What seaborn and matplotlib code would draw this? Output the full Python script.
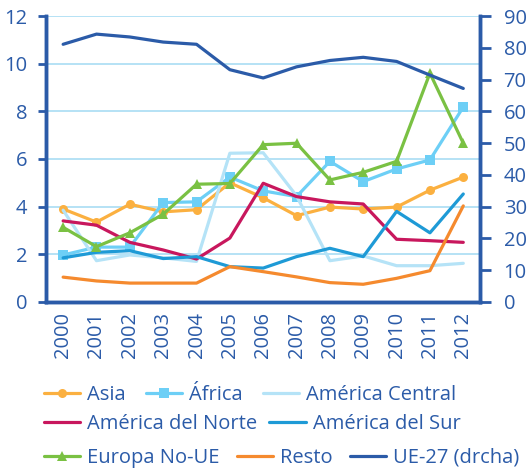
import matplotlib
matplotlib.use("Agg")
import matplotlib.pyplot as plt
import seaborn as sns
import pandas as pd
import numpy as np
from matplotlib.ticker import MultipleLocator, FixedLocator

years = [str(y) for y in range(2000, 2013)]
asia = [3.9, 3.35, 4.1, 3.78, 3.87, 5.0, 4.37, 3.62, 3.98, 3.9, 3.98, 4.69, 5.24]
africa = [1.97, 2.3, 2.3, 4.17, 4.2, 5.24, 4.66, 4.42, 5.9, 5.05, 5.58, 5.96, 8.18]
am_central = [3.85, 1.73, 1.97, 1.85, 1.7, 6.24, 6.26, 4.45, 1.73, 1.93, 1.52, 1.52, 1.62]
am_norte = [3.4, 3.22, 2.5, 2.18, 1.8, 2.68, 4.98, 4.42, 4.2, 4.11, 2.63, 2.57, 2.5]
am_sur = [1.85, 2.08, 2.15, 1.82, 1.9, 1.48, 1.42, 1.9, 2.25, 1.9, 3.8, 2.9, 4.53]
europa = [3.13, 2.32, 2.9, 3.68, 4.94, 4.97, 6.6, 6.66, 5.12, 5.44, 5.9, 9.6, 6.66]
resto = [1.04, 0.88, 0.79, 0.79, 0.79, 1.48, 1.27, 1.05, 0.81, 0.74, 0.99, 1.31, 4.03]
ue27 = [81.1, 84.3, 83.4, 81.8, 81.1, 73.1, 70.5, 74.0, 76.0, 77.0, 75.7, 71.4, 67.2]

TXT = "#2B5BA8"
sns.set_theme(style="white")
plt.rcParams['font.family'] = ['Open Sans', 'DejaVu Sans']

fig = plt.figure(figsize=(5.28, 4.71), dpi=100)
ax = fig.add_axes([0.088, 0.359, 0.821, 0.607])
ax2 = ax.twinx()

series = [
    ("Asia", asia, "#FBB040", "o", 6.5),
    ("África", africa, "#6DCFF6", "s", 6.5),
    ("América Central", am_central, "#B5E3F7", None, 0),
    ("América del Norte", am_norte, "#C8175D", None, 0),
    ("América del Sur", am_sur, "#1E9AD6", None, 0),
    ("Europa No-UE", europa, "#7AC143", "^", 7),
    ("Resto", resto, "#F58A2E", None, 0),
]
handles = []
for name, vals, col, mk, ms in series:
    df = pd.DataFrame({"year": years, "v": vals})
    sns.lineplot(data=df, x="year", y="v", ax=ax, color=col, linewidth=2.3,
                 marker=mk if mk else None, markersize=ms, markeredgewidth=0,
                 sort=False, label=name, legend=False)
    handles.append(ax.lines[-1])

df = pd.DataFrame({"year": years, "v": ue27})
sns.lineplot(data=df, x="year", y="v", ax=ax2, color="#2B5BA8", linewidth=2.3,
             sort=False, label="UE-27 (drcha)", legend=False)
handles.append(ax2.lines[-1])

ax.set_xlim(-0.5, 12.5)
ax.set_ylim(0, 12)
ax2.set_ylim(0, 90)
ax.set_xlabel("")
ax.set_ylabel("")
ax2.set_ylabel("")

FS = 14.5
ax.yaxis.set_major_locator(MultipleLocator(2))
ax2.yaxis.set_major_locator(MultipleLocator(10))
ax.grid(axis="y", color="#A9DDF3", linewidth=1.2)
ax.set_axisbelow(True)

ax.set_xticks(range(len(years)))
ax.set_xticklabels(years, rotation=90)
ax.xaxis.set_minor_locator(FixedLocator(np.arange(-0.5, 13, 1)))
ax.tick_params(axis="x", which="major", length=0, labelsize=14.5, labelcolor=TXT, pad=7)
ax.tick_params(axis="x", which="minor", length=6, width=2, color=TXT)
ax.tick_params(axis="y", length=6, width=2, color=TXT, labelsize=FS, labelcolor=TXT, pad=8)
ax2.tick_params(axis="y", length=8, width=2, color=TXT, labelsize=FS, labelcolor=TXT, pad=9)

for a in (ax, ax2):
    a.spines["top"].set_visible(False)
    for s in ("left", "right", "bottom"):
        a.spines[s].set_color(TXT)
        a.spines[s].set_linewidth(2.5)

rows = [[0, 1, 2], [3, 4], [5, 6, 7]]
ys = [0.161, 0.099, 0.028]
cs = [1.0, 0.6, 0.85]
for r, yv, c in zip(rows, ys, cs):
    leg = fig.legend([handles[i] for i in r], [handles[i].get_label() for i in r],
                     loc="center left", bbox_to_anchor=(0.083, yv), ncol=len(r),
                     frameon=False, fontsize=FS, handlelength=1.8, handletextpad=0.35,
                     columnspacing=c, borderpad=0, borderaxespad=0)
    for t in leg.get_texts():
        t.set_color(TXT)

fig.savefig("out.png", dpi=100)
